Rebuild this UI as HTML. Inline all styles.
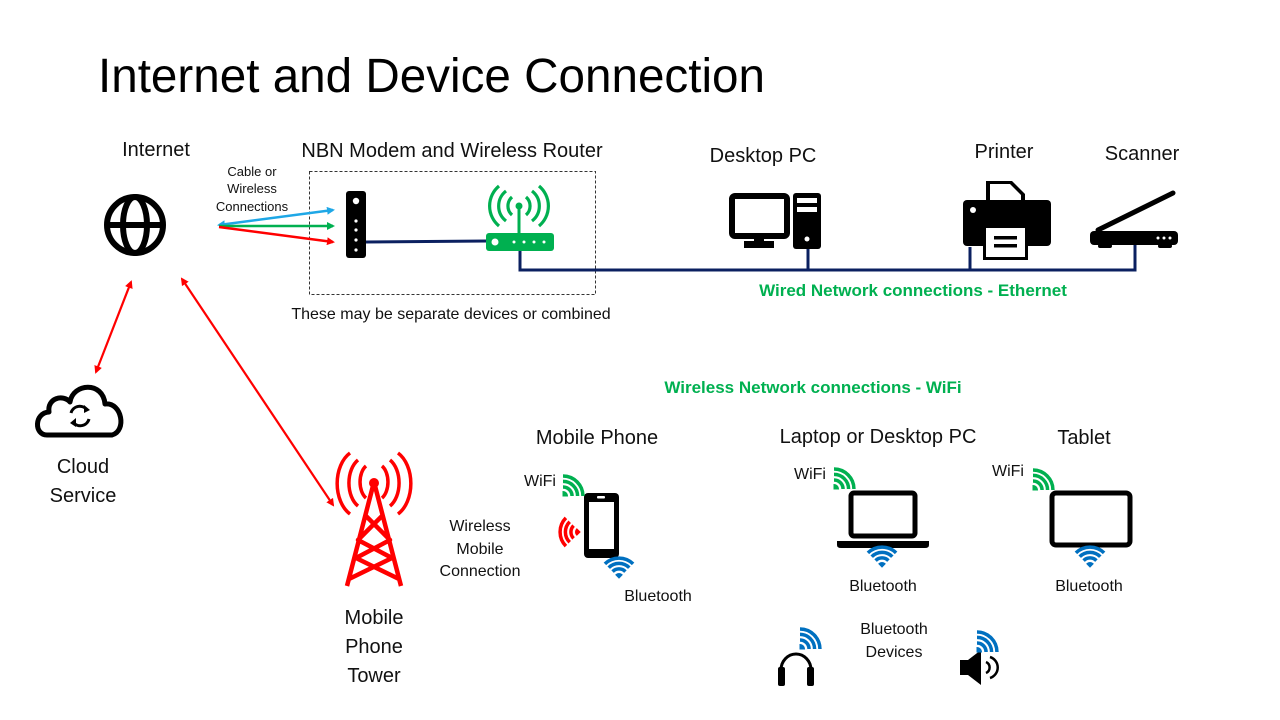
<!DOCTYPE html>
<html><head><meta charset="utf-8"><style>
body{margin:0;background:#fff}
svg{display:block}
text{font-family:"Liberation Sans",sans-serif;fill:#111}
</style></head><body>
<svg width="1280" height="720" viewBox="0 0 1280 720" xmlns="http://www.w3.org/2000/svg">
<defs>
<g id="wf">
<path d="M0,0 L-3.2,-3.2 A4.5 4.5 0 0 1 3.2,-3.2 Z"/>
<path d="M-6.4,-6.4 A9 9 0 0 1 6.4,-6.4 M-10.3,-10.3 A14.5 14.5 0 0 1 10.3,-10.3 M-14.1,-14.1 A20 20 0 0 1 14.1,-14.1" fill="none" stroke-width="3.5"/>
</g>
<marker id="ab" markerWidth="8" markerHeight="8" refX="6" refY="4" orient="auto-start-reverse" markerUnits="userSpaceOnUse"><path d="M0,0 L8,4 L0,8 Z" fill="#1ea7e6"/></marker>
<marker id="ag" markerWidth="8" markerHeight="8" refX="6" refY="4" orient="auto-start-reverse" markerUnits="userSpaceOnUse"><path d="M0,0 L8,4 L0,8 Z" fill="#00b050"/></marker>
<marker id="ar" markerWidth="8" markerHeight="8" refX="6" refY="4" orient="auto-start-reverse" markerUnits="userSpaceOnUse"><path d="M0,0 L8,4 L0,8 Z" fill="#f00"/></marker>
</defs>

<text x="98" y="92" font-size="48" textLength="667" lengthAdjust="spacingAndGlyphs" style="fill:#000">Internet and Device Connection</text>

<!-- labels -->
<text x="156" y="156" font-size="20" text-anchor="middle">Internet</text>
<text x="452" y="157" font-size="20" text-anchor="middle">NBN Modem and Wireless Router</text>
<text x="763" y="162" font-size="20" text-anchor="middle">Desktop PC</text>
<text x="1004" y="158" font-size="20" text-anchor="middle">Printer</text>
<text x="1142" y="160" font-size="20" text-anchor="middle">Scanner</text>
<text x="252" y="176" font-size="13" text-anchor="middle">Cable or</text>
<text x="252" y="193" font-size="13" text-anchor="middle">Wireless</text>
<text x="252" y="211" font-size="13" text-anchor="middle">Connections</text>
<text x="451" y="319" font-size="16" text-anchor="middle">These may be separate devices or combined</text>
<text x="913" y="296" font-size="17" font-weight="bold" style="fill:#00b050" text-anchor="middle">Wired Network connections - Ethernet</text>
<text x="813" y="393" font-size="17" font-weight="bold" style="fill:#00b050" text-anchor="middle">Wireless Network connections - WiFi</text>
<text x="83" y="473" font-size="20" text-anchor="middle">Cloud</text>
<text x="83" y="502" font-size="20" text-anchor="middle">Service</text>
<text x="374" y="624" font-size="20" text-anchor="middle">Mobile</text>
<text x="374" y="653" font-size="20" text-anchor="middle">Phone</text>
<text x="374" y="682" font-size="20" text-anchor="middle">Tower</text>
<text x="597" y="444" font-size="20" text-anchor="middle">Mobile Phone</text>
<text x="878" y="443" font-size="20" text-anchor="middle">Laptop or Desktop PC</text>
<text x="1084" y="444" font-size="20" text-anchor="middle">Tablet</text>
<text x="540" y="486" font-size="16" text-anchor="middle">WiFi</text>
<text x="810" y="479" font-size="16" text-anchor="middle">WiFi</text>
<text x="1008" y="476" font-size="16" text-anchor="middle">WiFi</text>
<text x="480" y="531" font-size="16" text-anchor="middle">Wireless</text>
<text x="480" y="554" font-size="16" text-anchor="middle">Mobile</text>
<text x="480" y="576" font-size="16" text-anchor="middle">Connection</text>
<text x="658" y="601" font-size="16" text-anchor="middle">Bluetooth</text>
<text x="883" y="591" font-size="16" text-anchor="middle">Bluetooth</text>
<text x="1089" y="591" font-size="16" text-anchor="middle">Bluetooth</text>
<text x="894" y="634" font-size="16" text-anchor="middle">Bluetooth</text>
<text x="894" y="657" font-size="16" text-anchor="middle">Devices</text>

<!-- dashed box -->
<rect x="309.5" y="171.5" width="286" height="123" fill="none" stroke="#333" stroke-dasharray="3,2" stroke-width="1"/>

<!-- globe -->
<g fill="none" stroke="#000" stroke-width="6">
<circle cx="135" cy="225" r="28"/>
<ellipse cx="135" cy="225" rx="12" ry="28"/>
<line x1="107" y1="225" x2="163" y2="225"/>
</g>

<!-- connection arrows -->
<line x1="219" y1="225" x2="333" y2="210" stroke="#1ea7e6" stroke-width="2.5" marker-start="url(#ab)" marker-end="url(#ab)"/>
<line x1="219" y1="226" x2="333" y2="226" stroke="#00b050" stroke-width="2.5" marker-end="url(#ag)"/>
<line x1="219" y1="227" x2="333" y2="242" stroke="#f00" stroke-width="2.5" marker-end="url(#ar)"/>
<line x1="131" y1="282" x2="96" y2="372" stroke="#f00" stroke-width="2.2" marker-start="url(#ar)" marker-end="url(#ar)"/>
<line x1="182" y1="279" x2="333" y2="505" stroke="#f00" stroke-width="2.2" marker-start="url(#ar)" marker-end="url(#ar)"/>

<!-- modem -->
<rect x="346" y="191" width="20" height="67" rx="3" fill="#000"/>
<circle cx="356" cy="201" r="3.2" fill="#fff"/>
<g fill="#fff"><circle cx="356" cy="221" r="1.6"/><circle cx="356" cy="230" r="1.6"/><circle cx="356" cy="240" r="1.6"/><circle cx="356" cy="250" r="1.6"/></g>
<line x1="366" y1="242" x2="487" y2="241" stroke="#0b2060" stroke-width="3"/>
<!-- router -->
<rect x="486" y="233" width="68" height="18" rx="3" fill="#00b050"/>
<circle cx="495" cy="242" r="3.5" fill="#fff"/>
<g fill="#fff"><circle cx="514" cy="242" r="1.5"/><circle cx="524" cy="242" r="1.5"/><circle cx="534" cy="242" r="1.5"/><circle cx="544" cy="242" r="1.5"/></g>
<line x1="519" y1="233" x2="519" y2="208" stroke="#00b050" stroke-width="3"/>
<circle cx="519" cy="206" r="3.5" fill="#00b050"/>
<g fill="none" stroke="#00b050" stroke-width="3.2">
<path d="M512,197 A12 12 0 0 0 512,215 M526,197 A12 12 0 0 1 526,215"/>
<path d="M506,191 A19 19 0 0 0 506,221 M532,191 A19 19 0 0 1 532,221"/>
<path d="M499,186 A26 26 0 0 0 499,226 M539,186 A26 26 0 0 1 539,226"/>
</g>

<!-- ethernet -->
<path d="M520,251 V270 H1135 V245 M808,270 V247 M970,270 V247" fill="none" stroke="#0b2060" stroke-width="3"/>

<!-- desktop pc -->
<rect x="732" y="196" width="55" height="40" rx="3" fill="none" stroke="#000" stroke-width="6"/>
<rect x="754" y="236" width="10" height="6" fill="#000"/>
<rect x="744" y="241" width="30" height="7" fill="#000"/>
<rect x="793" y="193" width="28" height="56" rx="3" fill="#000"/>
<rect x="797" y="198" width="20" height="5" fill="#fff"/><rect x="797" y="207" width="20" height="5" fill="#fff"/>
<circle cx="807" cy="239" r="2.5" fill="#fff"/>

<!-- printer -->
<path d="M986,181 H1012 L1025,194 V203 H986 Z" fill="#000"/>
<path d="M990,184 H1010 L1021,195 V200 H990 Z" fill="#fff"/>
<rect x="963" y="200" width="88" height="46" rx="4" fill="#000"/>
<circle cx="973" cy="210" r="3" fill="#fff"/>
<rect x="983" y="228" width="45" height="32" fill="#000"/>
<rect x="986" y="228" width="39" height="29" fill="#fff"/>
<rect x="994" y="236" width="23" height="3.5" fill="#000"/><rect x="994" y="244" width="23" height="3.5" fill="#000"/>

<!-- scanner -->
<line x1="1098" y1="230" x2="1173" y2="193" stroke="#000" stroke-width="5" stroke-linecap="round"/>
<rect x="1090" y="231" width="88" height="14" rx="4" fill="#000"/>
<rect x="1098" y="244" width="14" height="4" rx="2" fill="#000"/><rect x="1158" y="244" width="14" height="4" rx="2" fill="#000"/>
<g fill="#fff"><circle cx="1158" cy="238" r="1.5"/><circle cx="1164" cy="238" r="1.5"/><circle cx="1170" cy="238" r="1.5"/></g>

<!-- cloud -->
<path d="M47,435 C34,435 34,413 49,412 C47,398 63,394 70,402 C73,383 103,381 105,404 C122,402 127,431 112,435 Z" fill="none" stroke="#000" stroke-width="5" stroke-linejoin="round"/>
<g fill="none" stroke="#000" stroke-width="3">
<path d="M71,413 A9 9 0 0 1 87,410"/><path d="M89,419 A9 9 0 0 1 73,422"/>
</g>
<path d="M84,405 L90,410 L84,413 Z M76,418 L70,423 L76,427 Z" fill="#000"/>

<!-- tower -->
<g stroke="#f00" stroke-width="4.5" fill="none" stroke-linejoin="round">
<path d="M374,482 L347,586 M374,482 L401,586 M365,515 L390,540 L356,558 L399,579 M383,515 L358,540 L392,558 L349,579"/>
</g>
<circle cx="374" cy="483" r="5" fill="#f00"/>
<g stroke="#f00" stroke-width="3.5" fill="none">
<path d="M366,466 A11 18 0 0 0 366,498 M382,466 A11 18 0 0 1 382,498"/>
<path d="M358,460 A17 26 0 0 0 358,506 M390,460 A17 26 0 0 1 390,506"/>
<path d="M350,453 A23 34 0 0 0 350,514 M398,453 A23 34 0 0 1 398,514"/>
</g>

<!-- phone -->
<rect x="584" y="493" width="35" height="65" rx="4" fill="#000"/>
<rect x="589" y="502" width="25" height="47" fill="#fff"/>
<rect x="597" y="496" width="8" height="2.5" rx="1" fill="#fff"/>
<use href="#wf" transform="translate(563,496) rotate(45)" fill="#00b050" stroke="#00b050"/>
<use href="#wf" transform="translate(580,532) rotate(-90)" fill="#f00" stroke="#f00"/>
<use href="#wf" transform="translate(619,578)" fill="#0070c0" stroke="#0070c0"/>

<!-- laptop -->
<rect x="851" y="493" width="64" height="43" rx="3" fill="none" stroke="#000" stroke-width="5"/>
<path d="M837,541 H929 V545 Q929,548 925,548 H841 Q837,548 837,545 Z" fill="#000"/>
<use href="#wf" transform="translate(834,489) rotate(45)" fill="#00b050" stroke="#00b050"/>
<use href="#wf" transform="translate(882,567)" fill="#0070c0" stroke="#0070c0"/>

<!-- tablet -->
<rect x="1052" y="493" width="78" height="52" rx="4" fill="none" stroke="#000" stroke-width="5"/>
<use href="#wf" transform="translate(1033,490) rotate(45)" fill="#00b050" stroke="#00b050"/>
<use href="#wf" transform="translate(1090,567)" fill="#0070c0" stroke="#0070c0"/>

<!-- headphones -->
<path d="M781,680 V670 A15 16 0 0 1 811,670 V680" fill="none" stroke="#000" stroke-width="3"/>
<rect x="778" y="667" width="7" height="19" rx="2" fill="#000"/><rect x="807" y="667" width="7" height="19" rx="2" fill="#000"/>
<use href="#wf" transform="translate(800,649) rotate(45)" fill="#0070c0" stroke="#0070c0"/>

<!-- speaker -->
<path d="M960,660 H968 L981,650 V685 L968,675 H960 Z" fill="#000"/>
<g fill="none" stroke="#000" stroke-width="2.5"><path d="M986,662 A6 6 0 0 1 986,673"/><path d="M990,657 A11 11 0 0 1 990,678"/></g>
<use href="#wf" transform="translate(977,652) rotate(45)" fill="#0070c0" stroke="#0070c0"/>
</svg>
</body></html>
